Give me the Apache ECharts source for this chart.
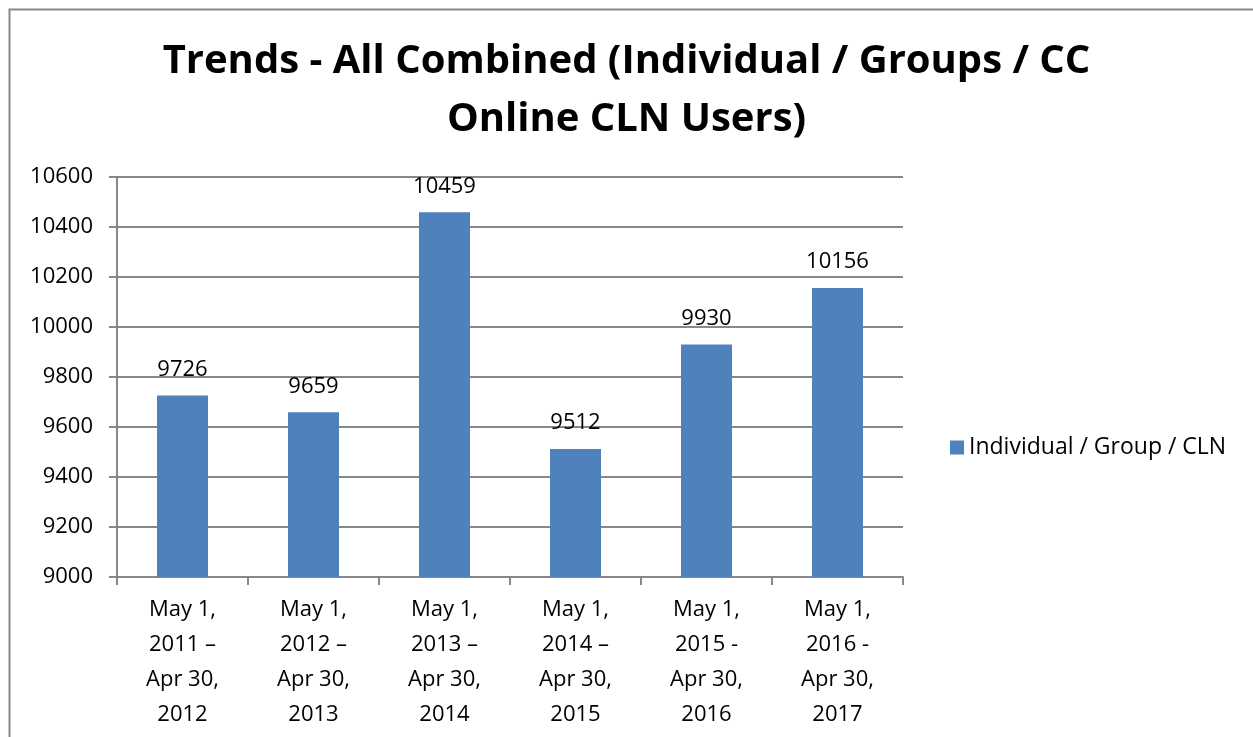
<!DOCTYPE html>
<html>
<head>
<meta charset="utf-8">
<script src="https://cdn.jsdelivr.net/npm/echarts@6/dist/echarts.min.js"></script>
<style>
  html, body { margin: 0; padding: 0; background: #fff; }
  #chart { width: 1253px; height: 737px; }
</style>
</head>
<body>
<div id="chart"></div>
<script>
// chart data
var categories = [
    'May 1,\n2011 \u2013\nApr 30,\n2012',
    'May 1,\n2012 \u2013\nApr 30,\n2013',
    'May 1,\n2013 \u2013\nApr 30,\n2014',
    'May 1,\n2014 \u2013\nApr 30,\n2015',
    'May 1,\n2015 -\nApr 30,\n2016',
    'May 1,\n2016 -\nApr 30,\n2017'
];
var users = [9726, 9659, 10459, 9512, 9930, 10156];
var seriesName = 'Individual / Group / CLN';
var chartTitle = 'Trends - All Combined (Individual / Groups / CC\nOnline CLN Users)';

var font = '"Open Sans", "Noto Sans", sans-serif';
var myChart = echarts.init(document.getElementById('chart'));

var option = {
    backgroundColor: '#fff',
    animation: false,
    title: {
        text: chartTitle,
        left: 'center',
        top: 28,
        textStyle: {
            fontFamily: font,
            fontSize: 40,
            fontWeight: 'bold',
            color: '#000',
            lineHeight: 58
        }
    },
    legend: {
        orient: 'vertical',
        left: 945,
        top: 431,
        itemWidth: 14,
        itemHeight: 14,
        itemGap: 6,
        icon: 'rect',
        textStyle: { fontFamily: font, fontSize: 23, color: '#000' },
        data: [seriesName]
    },
    grid: {
        left: 117,
        right: 1253 - 903,
        top: 177,
        bottom: 737 - 577,
        containLabel: false
    },
    xAxis: {
        type: 'category',
        data: categories,
        axisLine: { lineStyle: { color: '#888', width: 2 } },
        axisTick: { show: true, length: 8, alignWithLabel: false, lineStyle: { color: '#888', width: 2 } },
        axisLabel: {
            fontFamily: font,
            fontSize: 22,
            color: '#000',
            lineHeight: 35,
            margin: 15,
            interval: 0
        }
    },
    yAxis: {
        type: 'value',
        min: 9000,
        max: 10600,
        interval: 200,
        axisLine: { show: true, lineStyle: { color: '#888', width: 2 } },
        axisTick: { show: true, length: 8, lineStyle: { color: '#888', width: 2 } },
        splitLine: { lineStyle: { color: '#888', width: 2 } },
        axisLabel: {
            fontFamily: font,
            fontSize: 22,
            color: '#000',
            margin: 24,
            formatter: function (v) { return String(v); }
        }
    },
    series: [
        {
            name: seriesName,
            type: 'bar',
            data: users,
            barWidth: 51,
            itemStyle: { color: '#4F81BD' },
            label: {
                show: true,
                position: 'top',
                distance: 15,
                fontFamily: font,
                fontSize: 22,
                color: '#000'
            }
        }
    ],
    graphic: [
        {
            type: 'rect',
            left: 7,
            top: 7,
            shape: { width: 1300, height: 800 },
            style: { fill: 'none', stroke: '#888', lineWidth: 2 },
            silent: true,
            z: -1
        }
    ]
};

myChart.setOption(option);
</script>
</body>
</html>
